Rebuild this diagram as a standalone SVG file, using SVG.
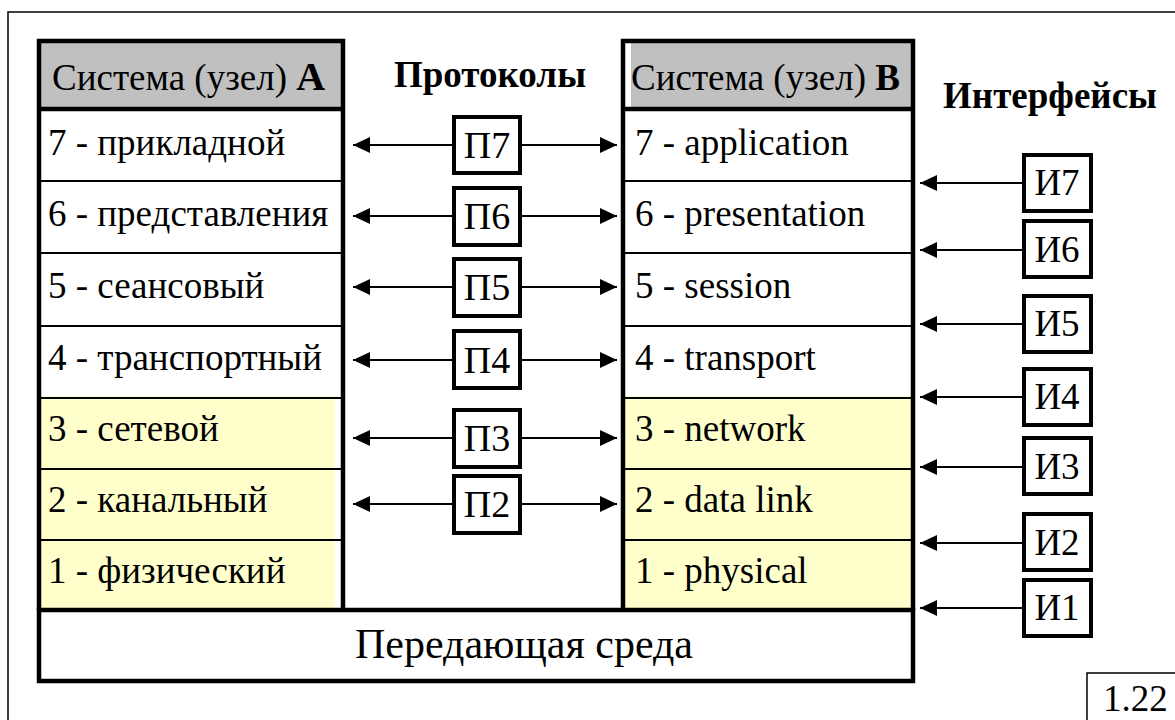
<svg xmlns="http://www.w3.org/2000/svg" width="1175" height="720" viewBox="0 0 1175 720">
<style>
text{font-family:"Liberation Serif","Times New Roman",serif;fill:#000}
.row{font-size:37px}
.hdr{font-size:37px}
.bold{font-weight:bold}
.lbl{font-size:38px;text-anchor:middle}
.ilbl{font-size:37px;text-anchor:middle}
.thin{stroke:#000;stroke-width:2;fill:none}
.thick{stroke:#000;stroke-width:4.5;fill:none}
.box{fill:#fff;stroke:#000;stroke-width:4}
.conn{stroke:#000;stroke-width:2;fill:none}
</style>
<defs>
<marker id="ah" viewBox="0 0 17 16" refX="17" refY="8" markerWidth="17" markerHeight="16" markerUnits="userSpaceOnUse" orient="auto-start-reverse">
<path d="M0,0 L17,8 L0,16 Z" fill="#000"/>
</marker>
</defs>
<rect width="1175" height="720" fill="#fff"/>
<rect x="8" y="12" width="1180" height="720" fill="none" stroke="#000" stroke-width="1.5"/>

<g id="systemA">
<rect x="39" y="41" width="304" height="69" fill="#c0c0c0"/>
<rect x="39" y="110" width="304" height="286" fill="#fff"/>
<rect x="39" y="396" width="296" height="214" fill="#ffffcc"/>
<line class="thin" x1="39" y1="181" x2="343" y2="181"/>
<line class="thin" x1="39" y1="253" x2="343" y2="253"/>
<line class="thin" x1="39" y1="326" x2="343" y2="326"/>
<line class="thin" x1="39" y1="398" x2="343" y2="398"/>
<line class="thin" x1="39" y1="469" x2="343" y2="469"/>
<line class="thin" x1="39" y1="540" x2="343" y2="540"/>
<line class="thick" x1="39" y1="109" x2="343" y2="109"/>
<path class="thick" d="M39,610 V41 H343 V610"/>
<text class="hdr" x="52" y="90">Система (узел) <tspan class="bold" font-size="40">A</tspan></text>
<text class="row" x="48" y="155">7 - прикладной</text>
<text class="row" x="48" y="226">6 - представления</text>
<text class="row" x="48" y="298">5 - сеансовый</text>
<text class="row" x="48" y="370">4 - транспортный</text>
<text class="row" x="48" y="441">3 - сетевой</text>
<text class="row" x="48" y="512">2 - канальный</text>
<text class="row" x="48" y="583">1 - физический</text>
</g>

<g id="systemB">
<rect x="625" y="41" width="288" height="69" fill="#c0c0c0"/>
<rect x="625" y="41" width="6" height="69" fill="#fff"/>
<rect x="625" y="110" width="288" height="286" fill="#fff"/>
<rect x="625" y="396" width="288" height="214" fill="#ffffcc"/>
<line class="thin" x1="623" y1="181" x2="913" y2="181"/>
<line class="thin" x1="623" y1="253" x2="913" y2="253"/>
<line class="thin" x1="623" y1="326" x2="913" y2="326"/>
<line class="thin" x1="623" y1="398" x2="913" y2="398"/>
<line class="thin" x1="623" y1="469" x2="913" y2="469"/>
<line class="thin" x1="623" y1="540" x2="913" y2="540"/>
<line class="thick" x1="623" y1="109" x2="913" y2="109"/>
<path class="thick" d="M623,610 V41 H913 V610"/>
<text class="hdr" x="631" y="90">Система (узел) <tspan class="bold" font-size="37">B</tspan></text>
<text class="row" x="635" y="155">7 - application</text>
<text class="row" x="635" y="226">6 - presentation</text>
<text class="row" x="635" y="298">5 - session</text>
<text class="row" x="635" y="370">4 - transport</text>
<text class="row" x="635" y="441">3 - network</text>
<text class="row" x="635" y="512">2 - data link</text>
<text class="row" x="635" y="583">1 - physical</text>
</g>

<g id="medium">
<rect x="39" y="610" width="874" height="71" fill="#fff" stroke="#000" stroke-width="4.5"/>
<text x="524" y="658" font-size="42" text-anchor="middle">Передающая среда</text>
</g>

<g id="titles">
<text x="490" y="87" font-size="37" font-weight="bold" text-anchor="middle">Протоколы</text>
<text x="1050" y="108" font-size="37" font-weight="bold" text-anchor="middle">Интерфейсы</text>
</g>

<g id="connectors">
<line class="conn" x1="453" y1="145" x2="353" y2="145" marker-end="url(#ah)"/>
<line class="conn" x1="520" y1="145" x2="617" y2="145" marker-end="url(#ah)"/>
<line class="conn" x1="453" y1="216" x2="353" y2="216" marker-end="url(#ah)"/>
<line class="conn" x1="520" y1="216" x2="617" y2="216" marker-end="url(#ah)"/>
<line class="conn" x1="453" y1="287" x2="353" y2="287" marker-end="url(#ah)"/>
<line class="conn" x1="520" y1="287" x2="617" y2="287" marker-end="url(#ah)"/>
<line class="conn" x1="453" y1="360" x2="353" y2="360" marker-end="url(#ah)"/>
<line class="conn" x1="520" y1="360" x2="617" y2="360" marker-end="url(#ah)"/>
<line class="conn" x1="453" y1="438" x2="353" y2="438" marker-end="url(#ah)"/>
<line class="conn" x1="520" y1="438" x2="617" y2="438" marker-end="url(#ah)"/>
<line class="conn" x1="453" y1="504" x2="353" y2="504" marker-end="url(#ah)"/>
<line class="conn" x1="520" y1="504" x2="617" y2="504" marker-end="url(#ah)"/>
<line class="conn" x1="1023" y1="183" x2="920" y2="183" marker-end="url(#ah)"/>
<line class="conn" x1="1023" y1="250" x2="920" y2="250" marker-end="url(#ah)"/>
<line class="conn" x1="1023" y1="324" x2="920" y2="324" marker-end="url(#ah)"/>
<line class="conn" x1="1023" y1="397" x2="920" y2="397" marker-end="url(#ah)"/>
<line class="conn" x1="1023" y1="467" x2="920" y2="467" marker-end="url(#ah)"/>
<line class="conn" x1="1023" y1="543" x2="920" y2="543" marker-end="url(#ah)"/>
<line class="conn" x1="1023" y1="608" x2="920" y2="608" marker-end="url(#ah)"/>
</g>

<g id="P7"><rect class="box" x="454" y="117" width="66" height="56"/><text class="lbl" x="487" y="158">П7</text></g>
<g id="P6"><rect class="box" x="454" y="188" width="66" height="57"/><text class="lbl" x="487" y="229">П6</text></g>
<g id="P5"><rect class="box" x="454" y="259" width="66" height="57"/><text class="lbl" x="487" y="300">П5</text></g>
<g id="P4"><rect class="box" x="454" y="331" width="66" height="57"/><text class="lbl" x="487" y="373">П4</text></g>
<g id="P3"><rect class="box" x="454" y="410" width="66" height="57"/><text class="lbl" x="487" y="451">П3</text></g>
<g id="P2"><rect class="box" x="454" y="476" width="66" height="57"/><text class="lbl" x="487" y="517">П2</text></g>

<g id="I7"><rect class="box" x="1024" y="155" width="67" height="56"/><text class="ilbl" x="1057" y="195">И7</text></g>
<g id="I6"><rect class="box" x="1024" y="221" width="67" height="56"/><text class="ilbl" x="1057" y="262">И6</text></g>
<g id="I5"><rect class="box" x="1024" y="296" width="67" height="56"/><text class="ilbl" x="1057" y="336">И5</text></g>
<g id="I4"><rect class="box" x="1024" y="369" width="67" height="56"/><text class="ilbl" x="1057" y="409">И4</text></g>
<g id="I3"><rect class="box" x="1024" y="438" width="67" height="56"/><text class="ilbl" x="1057" y="479">И3</text></g>
<g id="I2"><rect class="box" x="1024" y="514" width="67" height="56"/><text class="ilbl" x="1057" y="555">И2</text></g>
<g id="I1"><rect class="box" x="1024" y="580" width="67" height="56"/><text class="ilbl" x="1057" y="620">И1</text></g>

<g id="figno">
<rect x="1087" y="673" width="100" height="60" fill="#fff" stroke="#000" stroke-width="1.5"/>
<text x="1103" y="711" font-size="37">1.22</text>
</g>
</svg>
